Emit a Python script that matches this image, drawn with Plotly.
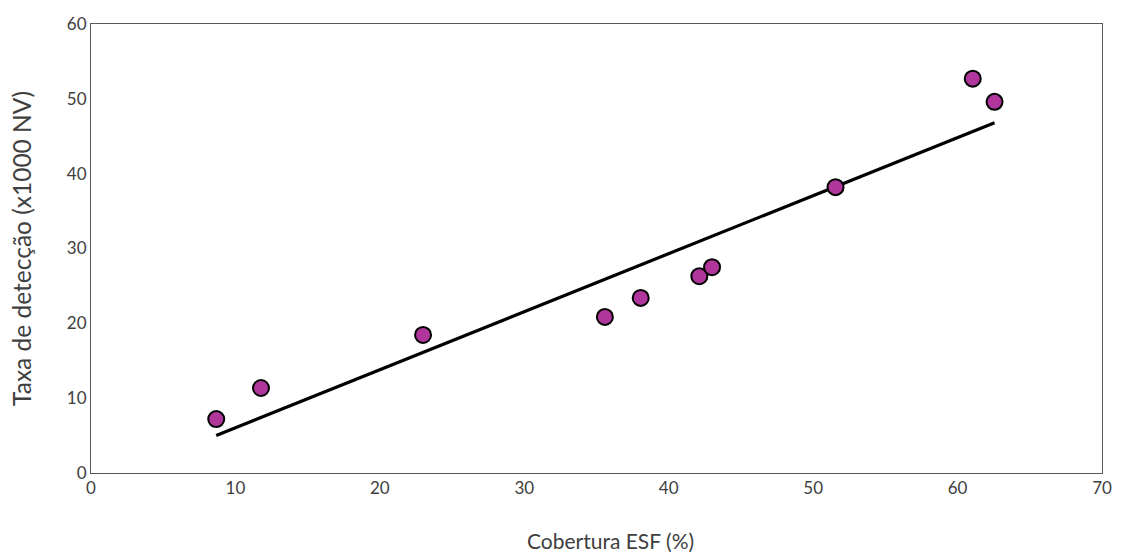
import numpy as np
import plotly.graph_objects as go

# Data
cobertura_esf = [8.67, 11.77, 22.99, 35.58, 38.06, 42.12, 43.0, 51.55, 61.05, 62.56]
taxa_deteccao = [7.2, 11.36, 18.45, 20.86, 23.4, 26.3, 27.5, 38.2, 52.7, 49.6]

x_ticks = [0, 10, 20, 30, 40, 50, 60, 70]
y_ticks = [0, 10, 20, 30, 40, 50, 60]

x_title = "Cobertura ESF (%)"
y_title = "Taxa de detecção (x1000 NV)"

# Linear trendline (least squares) over the data range
slope, intercept = np.polyfit(cobertura_esf, taxa_deteccao, 1)
trend_x = [min(cobertura_esf), max(cobertura_esf)]
trend_y = [slope * v + intercept for v in trend_x]

FONT = "Lato"
TXT = "#404040"

fig = go.Figure()
fig.add_trace(go.Scatter(
    x=trend_x, y=trend_y, mode="lines",
    line=dict(color="black", width=3.2),
    showlegend=False, hoverinfo="skip",
))
fig.add_trace(go.Scatter(
    x=cobertura_esf, y=taxa_deteccao, mode="markers",
    marker=dict(size=16, color="#B0369C", line=dict(color="black", width=2)),
    showlegend=False,
))

axis_common = dict(
    showgrid=False, zeroline=False,
    showline=True, linecolor="#595959", linewidth=1, mirror=True,
    ticks="", tickfont=dict(family=FONT, size=17, color=TXT),
)
fig.update_xaxes(range=[0, 70], tickvals=x_ticks, ticktext=[str(v) for v in x_ticks], **axis_common)
fig.update_yaxes(range=[0, 60], tickvals=y_ticks, ticktext=[str(v) for v in y_ticks], **axis_common)

fig.add_annotation(
    text=x_title, xref="paper", yref="paper", x=0.514, y=-0.151,
    xanchor="center", yanchor="middle", showarrow=False,
    font=dict(family=FONT, size=21, color=TXT),
)
fig.add_annotation(
    text=y_title, xref="paper", yref="paper", x=-0.0688, y=0.5,
    xanchor="center", yanchor="middle", textangle=-90, showarrow=False,
    font=dict(family=FONT, size=24.5, color=TXT),
)

fig.update_layout(
    width=1124, height=555,
    margin=dict(l=91, r=16, t=24, b=82),
    plot_bgcolor="white", paper_bgcolor="white",
    font=dict(family=FONT, color=TXT),
)
fig.write_html("out.html", config={"displayModeBar": False},
               post_script="document.body.style.margin='0';")
